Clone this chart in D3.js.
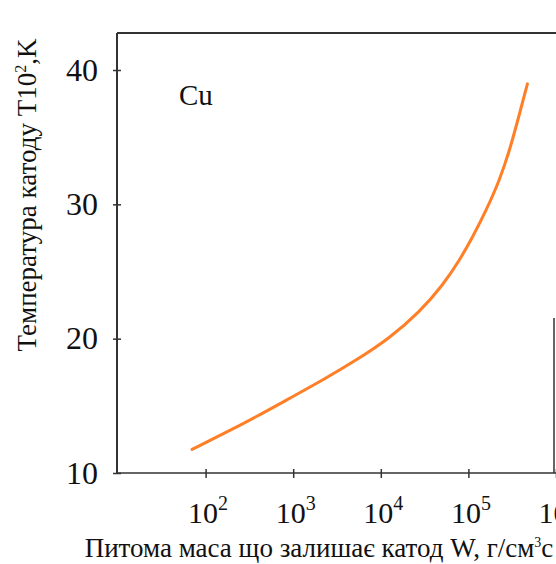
<!DOCTYPE html>
<html>
<head>
<meta charset="utf-8">
<script src="https://cdnjs.cloudflare.com/ajax/libs/d3/7.8.5/d3.min.js"></script>
<style>
  body { margin: 0; background: #fff; }
  svg text { font-family: "Liberation Serif", "DejaVu Serif", serif; fill: #111; }
</style>
</head>
<body>
<div id="canvas"></div>
<script>
"use strict";

// data: W (g/cm^3 s) vs T (x100 K) for Cu
let massW = [70, 158, 380, 910, 2180, 5260, 12600, 28000, 51300, 79600, 112700, 160300, 227700, 296000, 385000, 472000];
let tempT = [11.76, 12.9, 14.19, 15.56, 16.92, 18.4, 20.03, 22.01, 24.0, 25.86, 27.6, 29.58, 31.82, 34.03, 36.78, 38.97];
let xTicks = [100, 1000, 10000, 100000, 1000000];
let yTicks = [10, 20, 30, 40];
let seriesName = "Cu";

let svgWidth = 556;
let svgHeight = 564;
let lineColor = "#333";

let svg = d3.select("#canvas")
    .append("svg")
    .attr("width", svgWidth)
    .attr("height", svgHeight);

let xScale = d3.scaleLog()
    .domain([10, 1000000])
    .range([118, 556]);

let yScale = d3.scaleLinear()
    .domain([10, 40])
    .range([473, 70]);

let plotTop = 33;

/* ---------------- FRAME ---------------- */

svg.append("line")
    .attr("x1", 117).attr("x2", svgWidth)
    .attr("y1", plotTop).attr("y2", plotTop)
    .attr("stroke", lineColor)
    .attr("stroke-width", 2);

svg.append("line")
    .attr("x1", 554).attr("x2", 554)
    .attr("y1", 318).attr("y2", yScale(10))
    .attr("stroke", lineColor)
    .attr("stroke-width", 1.5);

/* ---------------- AXES ---------------- */

let yAxis = d3.axisLeft(yScale)
    .tickValues(yTicks)
    .tickSize(0)
    .tickPadding(19)
    .tickFormat(d3.format("d"));

let yG = svg.append("g")
    .attr("transform", "translate(117,0)")
    .call(yAxis);

yG.select(".domain").remove();
yG.selectAll(".tick text")
    .attr("font-size", "32px")
    .attr("fill", "#111");
yG.selectAll(".tick line")
    .attr("x1", -4).attr("x2", 4)
    .attr("stroke", lineColor)
    .attr("stroke-width", 1.5);

svg.append("line")
    .attr("x1", 117).attr("x2", 117)
    .attr("y1", plotTop).attr("y2", yScale(10) + 1)
    .attr("stroke", lineColor)
    .attr("stroke-width", 2);

let xAxis = d3.axisBottom(xScale)
    .tickValues(xTicks)
    .tickSize(0)
    .tickFormat("");

let xG = svg.append("g")
    .attr("transform", "translate(0," + yScale(10) + ")")
    .call(xAxis);

xG.select(".domain").remove();
xG.selectAll(".tick line")
    .attr("y1", -4).attr("y2", 5)
    .attr("stroke", lineColor)
    .attr("stroke-width", 1.5);

svg.append("line")
    .attr("x1", 117).attr("x2", svgWidth)
    .attr("y1", yScale(10)).attr("y2", yScale(10))
    .attr("stroke", lineColor)
    .attr("stroke-width", 1.5);

// power-of-ten labels with superscripts
let xLabels = xG.selectAll(".tick")
    .append("text")
    .attr("x", 2)
    .attr("y", 50)
    .attr("text-anchor", "middle")
    .attr("font-size", "30px")
    .attr("fill", "#111");

xLabels.append("tspan").text("10");
xLabels.append("tspan")
    .attr("dy", -13)
    .attr("font-size", "20px")
    .text(function (d) { return Math.round(Math.log10(d)); });

/* ---------------- AXIS TITLES ---------------- */

let yTitle = svg.append("text")
    .attr("transform", "translate(36,195) rotate(-90)")
    .attr("text-anchor", "middle")
    .attr("font-size", "27px");

yTitle.append("tspan").text("Температура катоду T10");
yTitle.append("tspan").attr("dy", -10).attr("font-size", "16px").text("2");
yTitle.append("tspan").attr("dy", 10).text(",K");

let xTitle = svg.append("text")
    .attr("x", 319)
    .attr("y", 557)
    .attr("text-anchor", "middle")
    .attr("font-size", "27px");

xTitle.append("tspan").text("Питома маса що залишає катод W, г/см");
xTitle.append("tspan").attr("dy", -10).attr("font-size", "14px").text("3");
xTitle.append("tspan").attr("dy", 10).text("с");

/* ---------------- CURVE ---------------- */

let points = massW.map(function (w, i) {
    return { w: w, t: tempT[i] };
});

let curve = d3.line()
    .x(function (d) { return xScale(d.w); })
    .y(function (d) { return yScale(d.t); })
    .curve(d3.curveBasis);

svg.append("path")
    .datum(points)
    .attr("d", curve)
    .attr("fill", "none")
    .attr("stroke", "#ff7f27")
    .attr("stroke-width", 3)
    .attr("stroke-linecap", "round");

svg.append("text")
    .attr("x", 179)
    .attr("y", 105)
    .attr("font-size", "29px")
    .text(seriesName);
</script>
</body>
</html>
